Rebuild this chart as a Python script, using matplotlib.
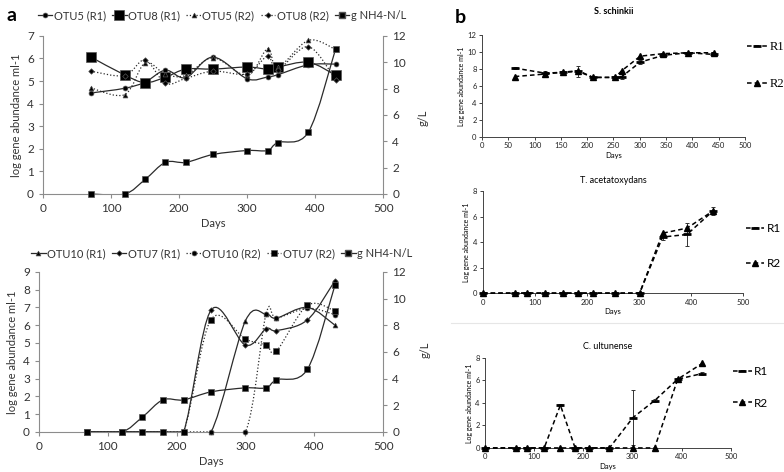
import matplotlib
matplotlib.use("Agg")
import matplotlib.pyplot as plt
from matplotlib.path import Path
from matplotlib.patches import PathPatch
from matplotlib.lines import Line2D

plt.rcParams['font.family'] = ['Lato', 'DejaVu Sans']

# ---- panel a data ----
days_a = [70, 120, 150, 180, 210, 250, 300, 330, 345, 390, 430]
nh4 = [0, 0, 1.1, 2.4, 2.4, 3.0, 3.3, 3.3, 3.9, 4.7, 11.0]

otu5_r1 = [4.47, 4.68, 4.95, 5.48, 5.15, 6.06, 5.1, 5.18, 5.28, 5.72, 5.75]
otu8_r1 = [6.07, 5.27, 4.93, 5.17, 5.53, 5.53, 5.62, 5.53, 5.62, 5.83, 5.26]
otu5_r2 = [4.7, 4.4, 5.8, 5.3, 5.25, 6.03, 5.25, 6.43, 5.6, 6.8, 6.4]
otu8_r2 = [5.44, 5.24, 5.93, 4.9, 5.12, 5.44, 5.32, 6.1, 5.5, 6.52, 5.05]

otu10_r1 = [0, 0, 0, 0, 0, 0, 6.25, 6.62, 6.4, 7.0, 6.0]
otu7_r1 = [0, 0, 0, 0, 0, 6.85, 4.88, 5.8, 5.7, 6.3, 8.5]
otu10_r2 = [0, 0, 0, 0, 0, 0, 0, 6.65, 6.4, 6.95, 6.6]
otu7_r2 = [0, 0, 0, 0, 0, 6.32, 5.22, 4.88, 4.55, 7.12, 6.8]

# ---- panel b data ----
days_s = [62, 120, 153, 183, 211, 253, 266, 301, 345, 392, 442]
schink_r1 = [8.1, 7.5, 7.6, 7.7, 7.0, 7.0, 7.1, 8.8, 9.6, 9.9, 9.7]
schink_r2 = [7.1, 7.4, 7.6, 7.8, 7.0, 7.0, 7.8, 9.5, 9.8, 9.9, 9.9]
schink_err = [0.1, 0.3, 0.1, 0.7, 0.1, 0.1, 0.3, 0.2, 0.2, 0.1, 0.2]

days_tc = [0, 62, 85, 120, 153, 183, 211, 253, 301, 345, 392, 442]
tacet_r1 = [0, 0, 0, 0, 0, 0, 0, 0, 0, 4.4, 4.6, 6.45]
tacet_r2 = [0, 0, 0, 0, 0, 0, 0, 0, 0, 4.7, 5.1, 6.45]
tacet_err = [0, 0, 0, 0, 0, 0, 0, 0, 0, 0.2, 0.9, 0.3]

cult_r1 = [0, 0, 0, 0, 3.8, 0, 0, 0, 2.7, 4.2, 6.1, 6.6]
cult_r2 = [0, 0, 0, 0, 0, 0, 0, 0, 0, 0, 6.1, 7.5]
cult_err = [0, 0, 0, 0, 0.1, 0, 0, 0, 2.4, 0.1, 0.1, 0.1]

LINE = '#2b2b2b'
AXC = '#8c8c8c'
TXT = '#333333'


def smooth(ax, x, y, ls, lw=0.9):
    # excel-like smoothed line drawn as bezier segments
    n = len(x)
    verts = [(x[0], y[0])]
    codes = [Path.MOVETO]
    for i in range(n - 1):
        xp, yp = (x[i - 1], y[i - 1]) if i > 0 else (x[i], y[i])
        xn, yn = (x[i + 2], y[i + 2]) if i + 2 < n else (x[i + 1], y[i + 1])
        c1 = (x[i] + (x[i + 1] - xp) / 6, y[i] + (y[i + 1] - yp) / 6)
        c2 = (x[i + 1] - (xn - x[i]) / 6, y[i + 1] - (yn - y[i]) / 6)
        verts += [c1, c2, (x[i + 1], y[i + 1])]
        codes += [Path.CURVE4] * 3
    ax.add_patch(PathPatch(Path(verts, codes), fill=False, ec=LINE, lw=lw, ls=ls))


def style_a(ax, ymax):
    ax.set_xlim(0, 500)
    ax.set_xticks(range(0, 501, 100))
    ax.set_ylim(0, ymax)
    ax.set_yticks(range(0, ymax + 1))
    for s in ['top', 'right']:
        ax.spines[s].set_visible(False)
    for s in ['left', 'bottom']:
        ax.spines[s].set_color(AXC)
    ax.tick_params(colors=AXC, labelcolor=TXT, labelsize=8.5, length=3)
    ax.set_xlabel('Days', fontsize=8, color=TXT, labelpad=3)
    ax.set_ylabel('log gene abundance ml-1', fontsize=8, color=TXT, labelpad=4)


def style_twin(ax, lab_x, lab_y):
    ax.set_ylim(0, 12)
    ax.set_yticks(range(0, 13, 2))
    for s in ['top', 'left', 'bottom']:
        ax.spines[s].set_visible(False)
    ax.spines['right'].set_color(AXC)
    ax.tick_params(colors=AXC, labelcolor=TXT, labelsize=8.5, length=3)
    ax.set_ylabel('g/L', fontsize=8, color=TXT)
    ax.yaxis.set_label_coords(lab_x, lab_y)


def panel_a(rect, series, ymax, legend_y, lab_xy):
    ax = fig.add_axes(rect)
    style_a(ax, ymax)
    handles = []
    for vals, ls, mk, ms, lab in series:
        smooth(ax, days_a, vals, ls)
        ax.plot(days_a, vals, ls='none', marker=mk, ms=ms, color='black',
                mec='#555555', mew=0.5, clip_on=False, zorder=3)
        handles.append(Line2D([], [], color=LINE, lw=0.9, ls=ls, marker=mk,
                              ms=ms, mfc='black', mec='#555555', mew=0.5, label=lab))
    tw = ax.twinx()
    style_twin(tw, *lab_xy)
    tw.set_xlim(0, 500)
    smooth(tw, days_a, nh4, '-')
    tw.plot(days_a, nh4, ls='none', marker='s', ms=4, color='black',
            mec='#555555', mew=0.5, clip_on=False, zorder=3)
    handles.append(Line2D([], [], color=LINE, lw=0.9, ls='-', marker='s', ms=4,
                          mfc='black', mec='#555555', label='g NH4-N/L'))
    fig.legend(handles=handles, loc='center', bbox_to_anchor=(0.283, legend_y),
               ncol=5, frameon=False, fontsize=8, handlelength=1.3,
               handletextpad=0.15, columnspacing=0.55, borderaxespad=0,
               borderpad=0, labelcolor=TXT)


fig = plt.figure(figsize=(7.84, 4.72), dpi=100)

panel_a([0.0548, 0.589, 0.434, 0.335],
        [(otu5_r1, '-', 'o', 3.5, 'OTU5 (R1)'),
         (otu8_r1, '-', 's', 7, 'OTU8 (R1)'),
         (otu5_r2, ':', '^', 3.5, 'OTU5 (R2)'),
         (otu8_r2, ':', 'D', 2.8, 'OTU8 (R2)')], 7, 0.967, (1.10, 0.48))

panel_a([0.0497, 0.085, 0.439, 0.339],
        [(otu10_r1, '-', '^', 3.5, 'OTU10 (R1)'),
         (otu7_r1, '-', 'D', 2.8, 'OTU7 (R1)'),
         (otu10_r2, ':', 'o', 3.5, 'OTU10 (R2)'),
         (otu7_r2, ':', 's', 4, 'OTU7 (R2)')], 9, 0.463, (1.105, 0.51))

fig.text(0.008, 0.968, 'a', fontsize=14, fontweight='bold', va='center')
fig.text(0.580, 0.962, 'b', fontsize=14, fontweight='bold', va='center')


def panel_b(rect, x, r1, r2, err, ymax, xstep, title, tfont, serif_leg,
            leg_y, leg_gap):
    ax = fig.add_axes(rect)
    ax.plot(x, r1, ls='--', color='black', lw=1.1, marker='_', ms=6, mew=2,
            dashes=(3, 2), clip_on=False, zorder=3, label='R1')
    ax.plot(x, r2, ls='--', color='black', lw=1.1, marker='^', ms=4,
            dashes=(3, 2), clip_on=False, zorder=3, label='R2')
    ax.errorbar(x, r1, yerr=err, fmt='none', ecolor='#333333', elinewidth=0.7,
                capsize=1.5, capthick=0.7)
    ax.set_xlim(0, 500)
    ax.set_xticks(range(0, 501, xstep))
    ax.set_ylim(0, ymax)
    ax.set_yticks(range(0, ymax + 1, 2))
    for s in ['top', 'right']:
        ax.spines[s].set_visible(False)
    for s in ['left', 'bottom']:
        ax.spines[s].set_color('#444444')
        ax.spines[s].set_linewidth(0.7)
    ax.tick_params(labelsize=5.5, length=2.5, width=0.6, pad=1.5, colors='#222222')
    ax.set_xlabel('Days', fontsize=5.5, labelpad=2)
    ax.set_ylabel('Log gene abundance ml-1', fontsize=5, labelpad=2)
    ax.set_title(title, fontsize=6.5, pad=6, **tfont)
    if serif_leg:
        prop = {'family': 'Liberation Serif', 'size': 9}
    else:
        prop = {'size': 8.5}
    ax.legend(loc='center left', bbox_to_anchor=(1.0, leg_y), frameon=False,
              prop=prop, handlelength=1.6, handletextpad=0.2,
              borderaxespad=0, borderpad=0.2, labelspacing=leg_gap)
    return ax


panel_b([0.615, 0.710, 0.335, 0.216], days_s, schink_r1, schink_r2, schink_err,
        12, 50, 'S. schinkii', {'fontweight': 'bold', 'y': 1.12}, True, 0.70, 2.0)
panel_b([0.616, 0.379, 0.332, 0.216], days_tc, tacet_r1, tacet_r2, tacet_err,
        8, 100, 'T. acetatoxydans', {}, False, 0.46, 2.0)
panel_b([0.619, 0.051, 0.313, 0.191], days_tc, cult_r1, cult_r2, cult_err,
        8, 100, 'C. ultunense', {}, False, 0.67, 1.7)

fig.add_artist(Line2D([0.575, 1.0], [0.316, 0.316], color='#e6e6e6', lw=0.8))

fig.savefig('out.png', dpi=100)
